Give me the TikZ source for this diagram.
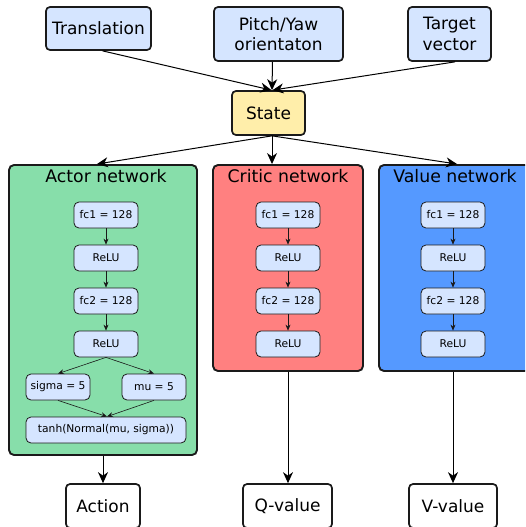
\documentclass[tikz,border=0pt]{standalone}
\usepackage{fontspec}
\setmainfont{DejaVu Sans}
\usetikzlibrary{arrows.meta,calc}
\definecolor{lblue}{RGB}{213,229,255}
\definecolor{stateyel}{RGB}{255,238,170}
\definecolor{actgreen}{RGB}{135,222,170}
\definecolor{critred}{RGB}{255,128,128}
\definecolor{valblue}{RGB}{85,153,255}
\definecolor{edge}{RGB}{26,26,26}
\tikzset{
  bigbox/.style={draw=edge, line width=1.7pt, rounded corners=4pt, align=center,
    font=\fontsize{17}{20.5}\selectfont, inner sep=0pt},
  netbox/.style={draw=edge, line width=1.9pt, rounded corners=5pt, inner sep=0pt},
  layer/.style={draw=edge, line width=0.8pt, fill=lblue, rounded corners=5pt,
    minimum width=64pt, minimum height=26pt, inner sep=0pt,
    font=\fontsize{10.7}{12}\selectfont},
  title/.style={font=\fontsize{17.3}{20}\selectfont, inner sep=0pt},
  bigarrow/.style={draw=black, line width=1pt, -{Stealth[length=11pt,width=10pt,inset=3.5pt]}},
  smallarrow/.style={draw=edge, line width=0.6pt, -{Stealth[length=6pt,width=5pt,inset=2pt]}},
}
\begin{document}
\begin{tikzpicture}[x=1pt,y=-1pt]
\useasboundingbox (0,0) rectangle (525,527);
\clip (0,0) rectangle (525,527);
% input boxes
\node[bigbox, fill=lblue, minimum width=105pt, minimum height=43pt] (trans) at (98.5,28.5) {Translation};
\node[bigbox, fill=lblue, minimum width=129pt, minimum height=54pt] (pitch) at (278.5,34) {Pitch/Yaw\\orientaton};
\node[bigbox, fill=lblue, minimum width=83pt, minimum height=54pt] (target) at (449.5,34) {Target\\vector};
\node[bigbox, fill=stateyel, minimum width=73pt, minimum height=44pt] (state) at (268.5,113) {State};
% network boxes
\node[netbox, fill=actgreen, minimum width=188pt, minimum height=290pt] (actor) at (103,310) {};
\node[netbox, fill=critred, minimum width=150pt, minimum height=206pt] (critic) at (288,268) {};
\node[netbox, fill=valblue, minimum width=162pt, minimum height=206pt] (value) at (460,268) {};
\node[title] (actort) at (106,176) {Actor network};
\node[title] (critict) at (288,176) {Critic network};
\node[title] (valuet) at (455,176) {Value network};
% actor layers
\node[layer] (a1) at (106,215) {fc1 = 128};
\node[layer] (a2) at (106,258) {ReLU};
\node[layer] (a3) at (106,301) {fc2 = 128};
\node[layer] (a4) at (106,344) {ReLU};
\node[layer] (asig) at (58,387) {sigma = 5};
\node[layer] (amu) at (154,387) {mu = 5};
\node[layer, minimum width=160pt] (atanh) at (106,430) {tanh(Normal(mu, sigma))};
% critic layers
\node[layer] (c1) at (288,215) {fc1 = 128};
\node[layer] (c2) at (288,258) {ReLU};
\node[layer] (c3) at (288,301) {fc2 = 128};
\node[layer] (c4) at (288,344) {ReLU};
% value layers
\node[layer] (v1) at (453,215) {fc1 = 128};
\node[layer] (v2) at (453,258) {ReLU};
\node[layer] (v3) at (453,301) {fc2 = 128};
\node[layer] (v4) at (453,344) {ReLU};
% outputs
\node[bigbox, fill=white, minimum width=74pt, minimum height=44pt] (action) at (103,506) {Action};
\node[bigbox, fill=white, minimum width=89pt, minimum height=44pt] (qval) at (287.5,506) {Q-value};
\node[bigbox, fill=white, minimum width=88pt, minimum height=44pt] (vval) at (453,506) {V-value};
% top arrows
\draw[bigarrow] ([xshift=4pt]trans.south) -- ([xshift=3pt]state.north);
\draw[bigarrow] ([xshift=-6pt]pitch.south) -- ([xshift=3.5pt]state.north);
\draw[bigarrow] ([xshift=5.5pt]target.south) -- ([xshift=4pt]state.north);
\draw[bigarrow] ([xshift=3.5pt]state.south) -- ([xshift=-6pt]actor.north);
\draw[bigarrow] ([xshift=3.5pt]state.south) -- ([xshift=-16pt]critic.north);
\draw[bigarrow] ([xshift=3.5pt]state.south) -- ([xshift=-3pt]value.north);
% inner arrows
\foreach \p/\q in {a1/a2,a2/a3,a3/a4,c1/c2,c2/c3,c3/c4,v1/v2,v2/v3,v3/v4}
  \draw[smallarrow] (\p.south) -- (\q.north);
\draw[smallarrow] (a4.south) -- (asig.north);
\draw[smallarrow] (a4.south) -- (amu.north);
\draw[smallarrow] (asig.south) -- ([xshift=1pt]atanh.north);
\draw[smallarrow] (amu.south) -- ([xshift=1pt]atanh.north);
% output arrows
\draw[bigarrow] (actor.south) -- (action.north);
\draw[bigarrow] (critic.south) -- (critic.south |- qval.north);
\draw[bigarrow] ([xshift=-7pt]value.south) -- ([xshift=-7pt]value.south |- vval.north);
\end{tikzpicture}
\end{document}
